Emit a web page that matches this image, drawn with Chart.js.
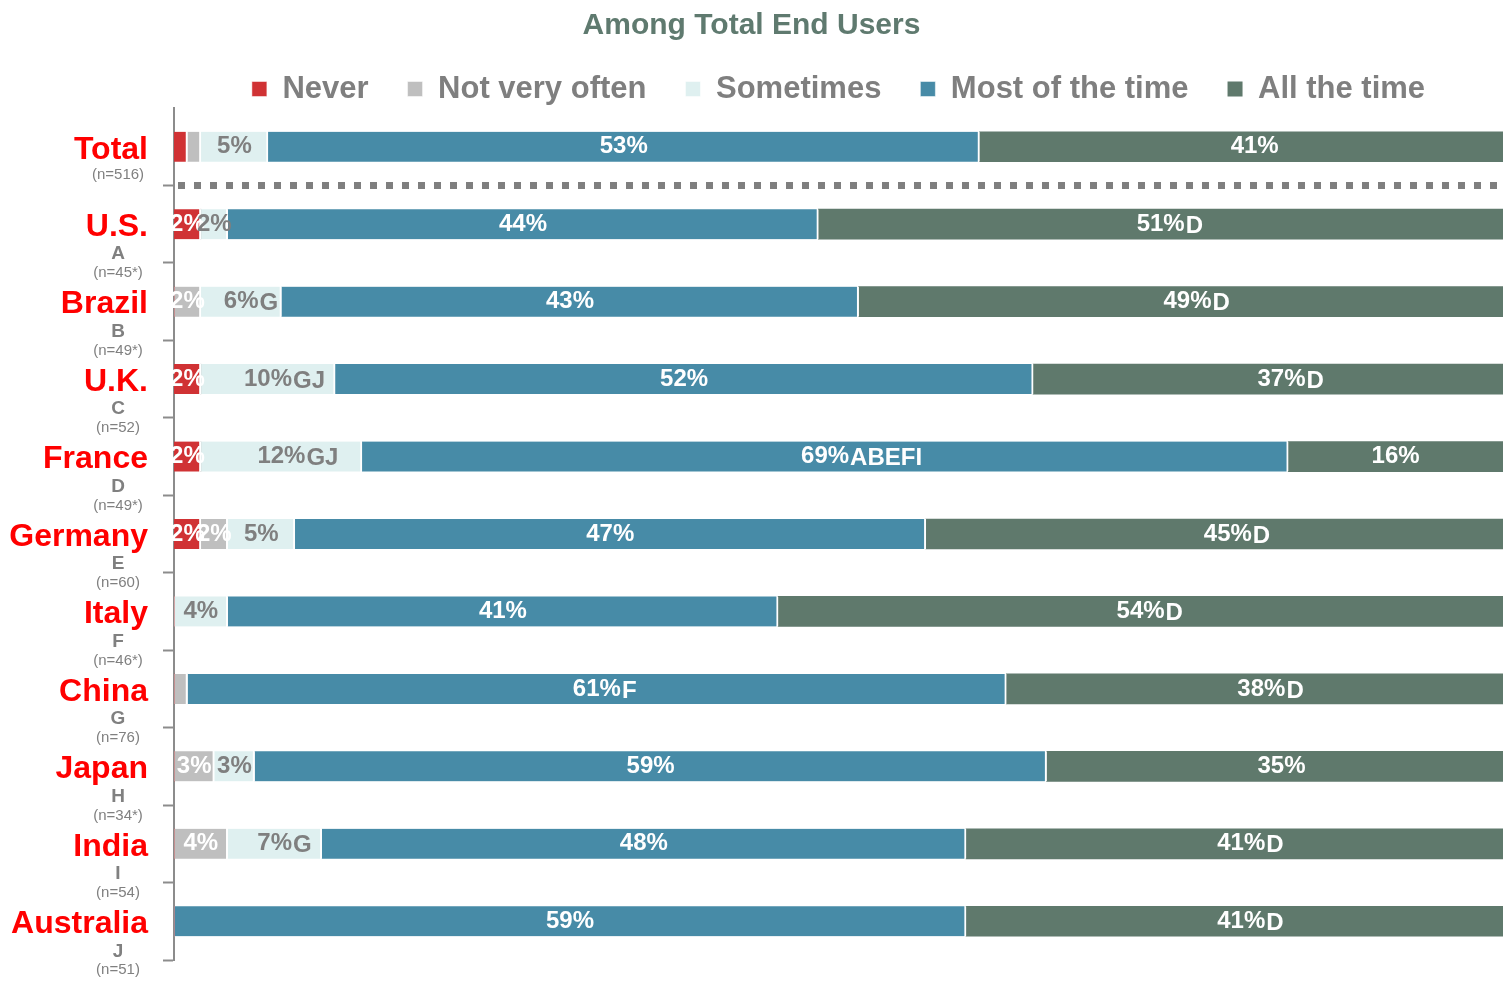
<!DOCTYPE html>
<html>
<head>
<meta charset="utf-8">
<script src="https://cdn.jsdelivr.net/npm/chart.js@4"></script>
<style>
  body { margin: 0; background: #fff; }
</style>
</head>
<body>
<canvas id="chart" width="1503" height="981"></canvas>
<script>
// categories (top row is the overall total)
const countries = ["Total", "U.S.", "Brazil", "U.K.", "France", "Germany", "Italy", "China", "Japan", "India", "Australia"];
const countryLetters = ["", "A", "B", "C", "D", "E", "F", "G", "H", "I", "J"];
const sampleSizes = ["(n=516)", "(n=45*)", "(n=49*)", "(n=52)", "(n=49*)", "(n=60)", "(n=46*)", "(n=76)", "(n=34*)", "(n=54)", "(n=51)"];

const seriesNames = ["Never", "Not very often", "Sometimes", "Most of the time", "All the time"];
const never      = [1, 2, 0, 2, 2, 2, 0, 0, 0, 0, 0];
const notOften   = [1, 0, 2, 0, 0, 2, 0, 1, 3, 4, 0];
const sometimes  = [5, 2, 6, 10, 12, 5, 4, 0, 3, 7, 0];
const mostTime   = [53, 44, 43, 52, 69, 47, 41, 61, 59, 48, 59];
const allTime    = [41, 51, 49, 37, 16, 45, 54, 38, 35, 41, 41];

// significance letters shown after a value
const sigNone      = ["", "", "", "", "", "", "", "", "", "", ""];
const sigSometimes = ["", "", "G", "GJ", "GJ", "", "", "", "", "G", ""];
const sigMost      = ["", "", "", "", "ABEFI", "", "", "F", "", "", ""];
const sigAll       = ["", "D", "D", "D", "", "D", "D", "D", "", "D", "D"];

const barColours = ["#d03234", "#bfbfbf", "#dff0f0", "#478ba7", "#5f796c"];
const labelColours = ["#ffffff", "#ffffff", "#7f7f7f", "#ffffff", "#ffffff"];
const sigLetters = [sigNone, sigNone, sigSometimes, sigMost, sigAll];

const FONT = '"Liberation Sans", Arial, sans-serif';

// legend sits 89px down, chart area starts at 108px
const legendSize = 31;
const legendPad = 39;
const legendTop = 89 - legendPad - legendSize / 2;
const legendTrim = legendTop + legendSize + legendPad + 10 - 108;

const trimLegend = {
    id: "trimLegend",
    beforeLayout(chart) {
        const lg = chart.legend;
        if (!lg || lg._trimmed) return;
        const fit = lg.fit;
        lg.fit = function () { fit.call(this); this.height -= legendTrim; };
        lg._trimmed = true;
    }
};

const separator = {
    id: "separator",
    afterDatasetsDraw(chart) {
        const ctx = chart.ctx;
        const y = chart.scales.y;
        const yy = (y.getPixelForValue(0) + y.getPixelForValue(1)) / 2;
        ctx.save();
        ctx.strokeStyle = "#7f7f7f";
        ctx.lineWidth = 7;
        ctx.setLineDash([7, 9]);
        ctx.beginPath();
        ctx.moveTo(chart.chartArea.left + 4, yy);
        ctx.lineTo(chart.chartArea.right, yy);
        ctx.stroke();
        ctx.restore();
    }
};

const barLabels = {
    id: "barLabels",
    afterDatasetsDraw(chart) {
        const ctx = chart.ctx;
        ctx.save();
        ctx.textBaseline = "middle";
        chart.data.datasets.forEach((ds, i) => {
            chart.getDatasetMeta(i).data.forEach((bar, j) => {
                const v = ds.data[j];
                if (v < 2) return;
                const cx = (bar.x + bar.base) / 2;
                const txt = v + "%";
                ctx.font = "bold 24px " + FONT;
                ctx.fillStyle = labelColours[i];
                ctx.textAlign = "center";
                ctx.fillText(txt, cx, bar.y);
                const sig = sigLetters[i][j];
                if (sig) {
                    const w = ctx.measureText(txt).width;
                    ctx.textAlign = "left";
                    ctx.fillText(sig, cx + w / 2 + 1, bar.y + 2);
                }
            });
        });
        ctx.restore();
    }
};

const countryLabels = {
    id: "countryLabels",
    afterDraw(chart) {
        const ctx = chart.ctx;
        const y = chart.scales.y;
        ctx.save();
        ctx.textBaseline = "middle";
        countries.forEach((name, j) => {
            const py = y.getPixelForValue(j);
            ctx.font = "bold 32px " + FONT;
            ctx.fillStyle = "#ff0000";
            ctx.textAlign = "right";
            ctx.fillText(name, 148, py + 3);
            ctx.fillStyle = "#808080";
            ctx.textAlign = "center";
            if (countryLetters[j]) {
                ctx.font = "bold 19px " + FONT;
                ctx.fillText(countryLetters[j], 118, py + 30);
                ctx.font = "15px " + FONT;
                ctx.fillText(sampleSizes[j], 118, py + 49);
            } else {
                ctx.font = "15px " + FONT;
                ctx.fillText(sampleSizes[j], 118, py + 28);
            }
        });
        ctx.restore();
    }
};

const seriesData = [never, notOften, sometimes, mostTime, allTime];

new Chart(document.getElementById("chart"), {
    type: "bar",
    data: {
        labels: countries,
        datasets: seriesNames.map((name, i) => ({
            label: name,
            data: seriesData[i],
            backgroundColor: barColours[i],
            borderColor: "#ffffff",
            borderWidth: { top: 0, bottom: 0, left: 0, right: i === 4 ? 0 : 2 },
            borderSkipped: false,
            barThickness: 30
        }))
    },
    options: {
        indexAxis: "y",
        responsive: false,
        animation: false,
        layout: { padding: { left: 0, right: 0, top: 0, bottom: 21 } },
        plugins: {
            title: {
                display: true,
                text: "Among Total End Users",
                color: "#5f7a6f",
                font: { family: FONT, size: 30, weight: "bold", lineHeight: 1.2 },
                padding: { top: 8, bottom: legendTop - 44 }
            },
            legend: {
                position: "top",
                fullSize: false,
                labels: {
                    boxWidth: 15,
                    boxHeight: 15,
                    padding: legendPad,
                    color: "#7f7f7f",
                    font: { family: FONT, size: legendSize, weight: "bold" }
                }
            },
            tooltip: { enabled: false }
        },
        scales: {
            x: {
                stacked: true,
                display: false,
                min: 0,
                max: 99
            },
            y: {
                stacked: true,
                afterFit: (scale) => { scale.width = 174; },
                ticks: { display: false },
                border: { color: "#8c8c8c", width: 2 },
                grid: {
                    offset: true,
                    drawOnChartArea: false,
                    tickLength: 11,
                    tickWidth: 2,
                    tickColor: (c) => c.index === 0 ? "rgba(0,0,0,0)" : "#8c8c8c"
                }
            }
        }
    },
    plugins: [trimLegend, separator, barLabels, countryLabels]
});
</script>
</body>
</html>
